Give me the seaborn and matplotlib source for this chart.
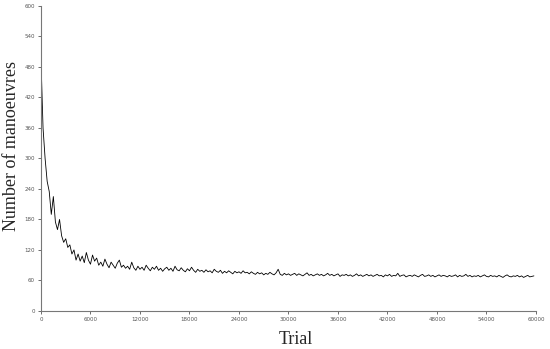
import numpy as np
import pandas as pd
import matplotlib
matplotlib.use('Agg')
import matplotlib.pyplot as plt
import seaborn as sns

# trial step between recorded points
step = 250

manoeuvres = [
    # 0 - 4750
    495, 360, 300, 255, 235, 190, 225, 175, 160, 180, 148, 135, 142, 125, 130, 112, 120, 100, 112, 98,
    # 5000 - 9750
    108, 95, 115, 100, 92, 110, 98, 104, 90, 96, 88, 102, 92, 85, 96, 90, 84, 94, 100, 86,
    # 10000 - 14750
    90, 84, 88, 82, 96, 85, 80, 88, 82, 86, 80, 90, 84, 79, 86, 82, 88, 80, 84, 78,
    # 15000 - 19750
    83, 86, 80, 84, 78, 88, 81, 79, 85, 80, 77, 83, 79, 86, 80, 76, 82, 78, 80, 76,
    # 20000 - 24750
    81, 77, 79, 75, 82, 78, 76, 80, 74, 78, 75, 79, 76, 73, 78, 75, 77, 74, 79, 75,
    # 25000 - 29750
    76, 73, 77, 74, 72, 76, 73, 75, 71, 74, 72, 76, 73, 71, 75, 82, 72, 70, 74, 71,
    # 30000 - 34750
    73, 70, 72, 74, 70, 73, 71, 69, 72, 75, 70, 72, 69, 71, 73, 70, 72, 69, 71, 74,
    # 35000 - 39750
    70, 72, 69, 71, 73, 68, 71, 70, 72, 69, 71, 68, 70, 73, 69, 71, 68, 70, 72, 69,
    # 40000 - 44750
    71, 68, 70, 72, 69, 70, 67, 71, 69, 72, 68, 70, 69, 74, 68, 70, 71, 67, 69, 70,
    # 45000 - 49750
    68, 71, 69, 67, 70, 72, 68, 69, 71, 68, 70, 67, 69, 71, 68, 70, 69, 67, 70, 68,
    # 50000 - 54750
    69, 71, 67, 70, 68, 69, 72, 68, 70, 67, 69, 68, 70, 67, 69, 71, 68, 67, 70, 68,
    # 55000 - 59750
    69, 67, 70, 68, 66, 69, 71, 68, 67, 69, 68, 70, 67, 69, 66, 68, 70, 67, 68, 69,
]
trials = [i * step for i in range(len(manoeuvres))]

x_ticks = [0, 6000, 12000, 18000, 24000, 30000, 36000, 42000, 48000, 54000, 60000]
y_ticks = [0, 60, 120, 180, 240, 300, 360, 420, 480, 540, 600]

df = pd.DataFrame({'Trial': trials, 'Manoeuvres': manoeuvres})

sns.set_style('white')

fig = plt.figure(figsize=(5.5, 3.49), dpi=100)
ax = fig.add_axes([0.0745, 0.109, 0.9, 0.874])

sns.lineplot(data=df, x='Trial', y='Manoeuvres', color='black', linewidth=0.6, ax=ax)

ax.set_xlim(0, 60000)
ax.set_ylim(0, 600)
ax.set_xticks(x_ticks)
ax.set_yticks(y_ticks)
ax.set_xticklabels([str(t) for t in x_ticks], fontsize=4, color='#555555',
                   family='DejaVu Sans')
ax.set_yticklabels([str(t) for t in y_ticks], fontsize=4, color='#555555',
                   family='DejaVu Sans')
ax.tick_params(axis='both', direction='out', length=2.5, width=0.6,
               colors='#555555', pad=2, bottom=True, left=True)

for s in ['top', 'right']:
    ax.spines[s].set_visible(False)
for s in ['left', 'bottom']:
    ax.spines[s].set_color('#777777')
    ax.spines[s].set_linewidth(0.8)

ax.set_xlabel('Trial', fontsize=13, family='Liberation Serif', va='center')
ax.set_ylabel('Number of manoeuvres', fontsize=13, family='Liberation Serif', va='center')
ax.xaxis.set_label_coords(0.515, -0.095)
ax.yaxis.set_label_coords(-0.059, 0.54)

fig.savefig('out.png', dpi=100)
